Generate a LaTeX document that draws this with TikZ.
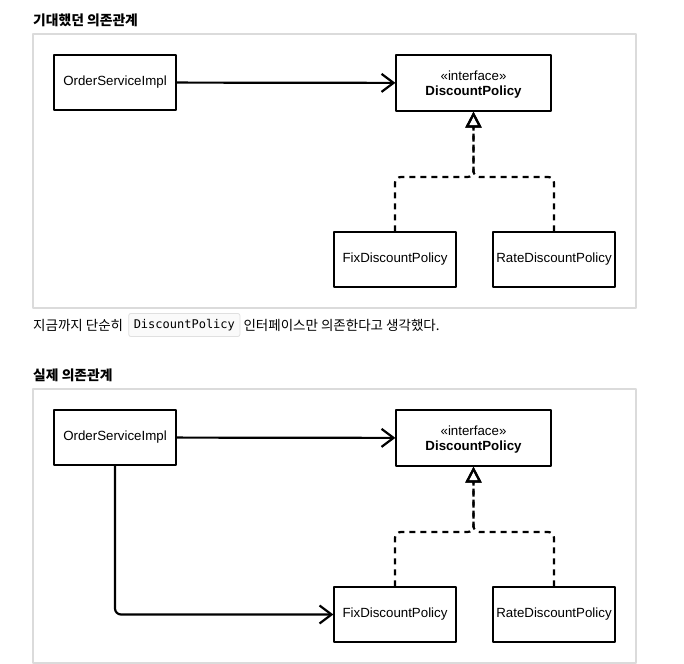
\documentclass[tikz,border=0pt]{standalone}
\usepackage{fontspec}
\setmainfont{Liberation Sans}
\newfontfamily\kr{Noto Sans CJK KR}
\newfontfamily\codefont{DejaVu Sans Mono}
\usetikzlibrary{arrows.meta,positioning}
\begin{document}
\begin{tikzpicture}[x=1pt, y=-1pt, line join=round,
	cls/.style={draw, line width=1.3pt, minimum width=122pt, minimum height=55pt, inner sep=0pt, font=\fontsize{13.3}{15.5}\selectfont},
	panel/.style={draw=black!14, line width=1.5pt},
	uses/.style={line width=2.2pt, -{Straight Barb[length=12pt, width=18pt, line width=2.2pt]}, rounded corners=6pt},
	impl/.style={line width=2.2pt, dash pattern=on 6pt off 5pt, -{Triangle[open, length=16pt, width=16pt, line width=2.2pt]}, rounded corners=6pt},
	title/.style={anchor=west, inner sep=0pt, font=\kr\bfseries\fontsize{13.8}{16}\selectfont}]
	\useasboundingbox (0,0) rectangle (684,663);
	\node[title] (t1) at (33,20) {기대했던 의존관계};
	\node[title] (t2) at (33,375) {실제 의존관계};
	% two panels, second shifted down by 355
	\foreach \p/\s in {a/0,b/355}{
		\draw[panel] (33,34+\s) rectangle (636,308+\s);
		\node[cls] (osi\p) at (115,82.5+\s) {OrderServiceImpl};
		\node[cls, minimum width=155pt, minimum height=56pt, align=center] (dp\p) at (473.5,83+\s) {};
		\node[align=center, inner sep=0pt, font=\fontsize{13.3}{15.5}\selectfont] (dpt\p) at (473.5,84.5+\s) {«interface»\\[0pt]\textbf{DiscountPolicy}};
		\node[cls] (fix\p) at (395,259.5+\s) {FixDiscountPolicy};
		\node[cls] (rate\p) at (554,259.5+\s) {RateDiscountPolicy};
		\coordinate (j\p) at (473.5,177+\s);
		\draw[uses] (osi\p) -- (dp\p);
		\draw[impl] (fix\p.north) |- (j\p) -- (dp\p.south);
		\draw[impl] (rate\p.north) |- (j\p) -- (dp\p.south);
	}
	\draw[uses] (osib.south) |- (fixb.west);
	% sentence between the panels
	\node[anchor=west, inner sep=0pt, font=\kr\fontsize{13.5}{16}\selectfont] (s1) at (33,325) {지금까지 단순히};
	\node[right=5pt of s1, draw=black!12, fill=black!2, rounded corners=2pt, line width=0.8pt, minimum height=23pt, inner xsep=5pt, font=\codefont\fontsize{12}{14}\selectfont] (code) {DiscountPolicy};
	\node[right=3pt of code, inner sep=0pt, font=\kr\fontsize{13.5}{16}\selectfont] (s2) {인터페이스만 의존한다고 생각했다.};
\end{tikzpicture}
\end{document}
